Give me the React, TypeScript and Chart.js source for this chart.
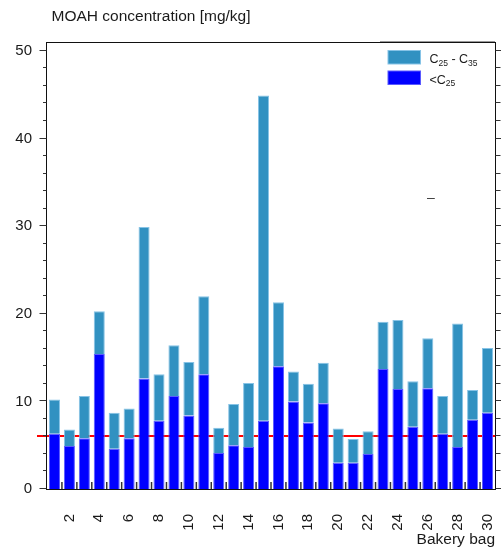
import { useEffect, useRef } from 'react';
import { Chart, registerables } from 'chart.js';

Chart.register(...registerables);

const categories = ['1', '2', '3', '4', '5', '6', '7', '8', '9', '10', '11', '12', '13', '14', '15', '16', '17', '18', '19', '20', '21', '22', '23', '24', '25', '26', '27', '28', '29', '30'];
const below25 = [6.3, 4.9, 5.8, 15.4, 4.6, 5.8, 12.6, 7.8, 10.6, 8.4, 13.1, 4.1, 5.0, 4.8, 7.8, 14.0, 10.0, 7.6, 9.8, 3.0, 3.0, 4.0, 13.7, 11.4, 7.1, 11.5, 6.3, 4.8, 7.9, 8.7];
const c25to35 = [3.9, 1.9, 4.8, 4.9, 4.1, 3.4, 17.3, 5.3, 5.8, 6.1, 8.9, 2.9, 4.7, 7.3, 37.1, 7.3, 3.4, 4.4, 4.6, 3.9, 2.7, 2.6, 5.4, 7.9, 5.2, 5.7, 4.3, 14.1, 3.4, 7.4];
const limitValue = 6;
const yTickValues = [0, 10, 20, 30, 40, 50];
const yMinorStep = 2;
const yMax = 50.9;
const labelEvery = 2;
const titleText = 'MOAH concentration [mg/kg]';
const xTitleText = 'Bakery bag';
const seriesNames = [['C', '25', ' - C', '35'], ['<C', '25']];
const strayMark = { index: 25.2, value: 33.2, text: '–' };

const FONT = "'Liberation Sans', Arial, sans-serif";
const COL_UPPER = '#3191c1';
const COL_UPPER_EDGE = '#86c3e6';
const COL_LOWER = '#0000ff';
const COL_LOWER_EDGE = '#5a5aff';
const TEXT = '#1a1a1a';

function drawRich(ctx: CanvasRenderingContext2D, parts: string[], x: number, y: number) {
  let cx = x;
  parts.forEach((p, i) => {
    const sub = i % 2 === 1;
    ctx.font = sub ? `8.5px ${FONT}` : `12.5px ${FONT}`;
    ctx.fillText(p, cx, sub ? y + 2.8 : y);
    cx += ctx.measureText(p).width;
  });
}

const decor = {
  id: 'decor',
  beforeDatasetsDraw(chart: any) {
    const { ctx, chartArea: a, scales } = chart;
    const py = Math.round(scales.y.getPixelForValue(limitValue));
    ctx.save();
    ctx.strokeStyle = '#ff0000';
    ctx.lineWidth = 2;
    ctx.beginPath();
    ctx.moveTo(a.left - 10, py);
    ctx.lineTo(a.right + 1, py);
    ctx.stroke();
    ctx.restore();
  },
  afterDraw(chart: any) {
    const { ctx, chartArea: a, scales } = chart;
    const y = scales.y;
    const x = scales.x;
    ctx.save();
    // frame
    ctx.strokeStyle = '#111';
    ctx.lineWidth = 1;
    ctx.strokeRect(a.left - 0.5, a.top - 0.5, a.right - a.left + 1, a.bottom - a.top + 1);
    // y ticks left and right
    ctx.strokeStyle = '#333';
    for (let v = 0; v <= yTickValues[yTickValues.length - 1]; v += yMinorStep) {
      const major = yTickValues.includes(v);
      const py = Math.round(y.getPixelForValue(v)) - 0.5;
      ctx.beginPath();
      ctx.moveTo(a.left - 0.5, py);
      ctx.lineTo(a.left - 0.5 - (major ? 7 : 3.5), py);
      ctx.moveTo(a.right + 0.5, py);
      ctx.lineTo(a.right + 0.5 + (major ? 6 : 5), py);
      ctx.stroke();
    }
    // x ticks (inward, at category boundaries)
    ctx.lineWidth = 1.5;
    for (let i = 0; i < categories.length - 1; i++) {
      const xb = (x.getPixelForValue(i) + x.getPixelForValue(i + 1)) / 2;
      ctx.beginPath();
      ctx.moveTo(xb, a.bottom);
      ctx.lineTo(xb, a.bottom - 7);
      ctx.stroke();
    }
    // legend
    ctx.strokeStyle = '#999';
    ctx.lineWidth = 1;
    ctx.beginPath();
    ctx.moveTo(a.right - 115, a.top - 1.5);
    ctx.lineTo(a.right, a.top - 1.5);
    ctx.stroke();
    const sw = [
      { fill: COL_UPPER, edge: COL_UPPER_EDGE, top: a.top + 7 },
      { fill: COL_LOWER, edge: COL_LOWER_EDGE, top: a.top + 27.5 },
    ];
    sw.forEach((s, i) => {
      ctx.fillStyle = s.edge;
      ctx.fillRect(a.right - 107.5, s.top, 33.5, 14.5);
      ctx.fillStyle = s.fill;
      ctx.fillRect(a.right - 106.5, s.top + 1, 31.5, 12.5);
      ctx.fillStyle = TEXT;
      ctx.textAlign = 'left';
      ctx.textBaseline = 'alphabetic';
      drawRich(ctx, seriesNames[i], a.right - 65.5, s.top + 13);
    });
    // title
    ctx.fillStyle = TEXT;
    ctx.font = `15.5px ${FONT}`;
    ctx.textAlign = 'left';
    ctx.textBaseline = 'alphabetic';
    ctx.fillText(titleText, a.left + 4.5, 21);
    // x title
    ctx.font = `15.5px ${FONT}`;
    ctx.textAlign = 'right';
    ctx.fillText(xTitleText, a.right, 544);
    // stray mark
    ctx.fillStyle = '#444';
    ctx.font = `14px ${FONT}`;
    ctx.textAlign = 'center';
    ctx.textBaseline = 'middle';
    ctx.fillText(strayMark.text, x.getPixelForValue(strayMark.index), y.getPixelForValue(strayMark.value));
    ctx.restore();
  },
};

export default function App() {
  const ref = useRef<HTMLCanvasElement>(null);
  useEffect(() => {
    if (!ref.current) return;
    const chart = new Chart(ref.current, {
      type: 'bar',
      data: {
        labels: categories,
        datasets: [
          {
            label: '<C25',
            data: below25,
            backgroundColor: COL_LOWER,
            borderColor: COL_LOWER_EDGE,
            borderWidth: 1,
            barPercentage: 0.74,
            categoryPercentage: 1,
          },
          {
            label: 'C25 - C35',
            data: c25to35,
            backgroundColor: COL_UPPER,
            borderColor: COL_UPPER_EDGE,
            borderWidth: 1,
            barPercentage: 0.74,
            categoryPercentage: 1,
          },
        ],
      },
      options: {
        responsive: false,
        animation: false,
        devicePixelRatio: 1,
        layout: { padding: { top: 43, right: 6, left: 0, bottom: 0 } },
        plugins: { legend: { display: false }, tooltip: { enabled: false }, title: { display: false } },
        scales: {
          x: {
            stacked: true,
            offset: true,
            grid: { display: false },
            border: { display: false },
            ticks: {
              autoSkip: false,
              minRotation: 90,
              maxRotation: 90,
              padding: 17,
              color: TEXT,
              font: { family: FONT, size: 15 },
              callback: (_v: any, i: number) => ((i + 1) % labelEvery === 0 ? categories[i] : ''),
            },
            afterFit: (s: any) => {
              s.height = 58;
              s.paddingLeft = 0;
              s.paddingRight = 0;
              s.paddingTop = 0;
              s.paddingBottom = 0;
            },
          },
          y: {
            stacked: true,
            min: 0,
            max: yMax,
            grid: { display: false, drawTicks: false },
            border: { display: false },
            ticks: { padding: 15, color: TEXT, font: { family: FONT, size: 15 } },
            afterBuildTicks: (s: any) => { s.ticks = yTickValues.map((v) => ({ value: v })); },
            afterFit: (s: any) => {
              s.width = 47;
              s.paddingTop = 0;
              s.paddingBottom = 0;
            },
          },
        },
      },
      plugins: [decor],
    });
    return () => chart.destroy();
  }, []);
  return (
    <div style={{ position: 'absolute', left: 0, top: 0, width: 501, height: 547 }}>
      <canvas ref={ref} width={501} height={547} style={{ width: 501, height: 547, display: 'block' }} />
    </div>
  );
}
